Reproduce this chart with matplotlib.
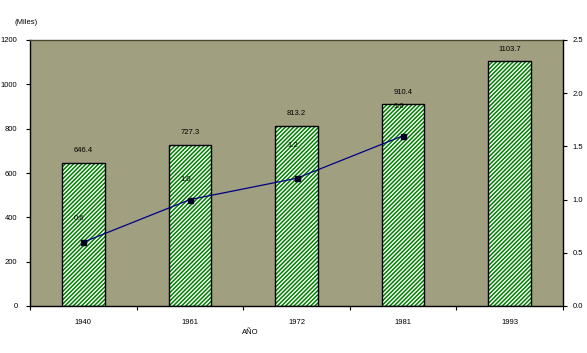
import matplotlib
matplotlib.use("Agg")
import matplotlib.pyplot as plt
import numpy as np

years = ["1940", "1961", "1972", "1981", "1993"]
population = [646.4, 727.3, 813.2, 910.4, 1103.7]
rate_years_idx = [0, 1, 2, 3]
rate = [0.6, 1.0, 1.2, 1.6]
left_ticks = [0, 200, 400, 600, 800, 1000, 1200]
right_ticks = [0.0, 0.5, 1.0, 1.5, 2.0, 2.5]

plt.rcParams['font.family'] = ['Liberation Sans', 'DejaVu Sans']
plt.rcParams['hatch.linewidth'] = 1.1

DPI = 100
fig = plt.figure(figsize=(5.87, 3.53), dpi=DPI)
fig.patch.set_facecolor('white')
W, H = 587, 353
ax = fig.add_axes([30 / W, 1 - 306 / H, (563 - 30) / W, (306 - 40) / H])
ax.set_facecolor('#A09F80')

x = np.arange(len(years))
bw = 0.40
ax.bar(x, population, width=bw, color='white', edgecolor='#008000', hatch='////////', linewidth=0, zorder=2)
ax.bar(x, population, width=bw, color='none', edgecolor='black', linewidth=1.0, zorder=3)

ax.set_xlim(-0.5, len(years) - 0.5)
ax.set_ylim(0, 1200)
ax.set_yticks(left_ticks)
ax.set_yticklabels([str(v) for v in left_ticks], fontsize=5.5)
ax.tick_params(axis='y', direction='out', length=3, width=0.8, pad=6)

ax.set_xticks(np.arange(-0.5, len(years), 1.0))
ax.set_xticklabels([])
ax.tick_params(axis='x', which='major', direction='out', length=3, width=0.8)
ax.set_xticks(x, minor=True)
ax.set_xticklabels(years, minor=True, fontsize=5.5)
ax.tick_params(axis='x', which='minor', length=0, pad=9)

for s in ['left', 'bottom']:
    ax.spines[s].set_color('black')
    ax.spines[s].set_linewidth(1.0)
ax.spines['top'].set_color('#4a4a30')
ax.spines['top'].set_linewidth(1.0)
ax.spines['right'].set_visible(False)

for xi, v in zip(x, population):
    ax.annotate(f"{v:.1f}", (xi, v), xytext=(0, 12 * 72 / DPI), textcoords='offset points',
                ha='center', va='center', fontsize=5.5)

ax2 = ax.twinx()
ax2.set_ylim(0, 2.5)
ax2.set_yticks(right_ticks)
ax2.set_yticklabels([f"{v:.1f}" for v in right_ticks], fontsize=5.5)
ax2.tick_params(axis='y', direction='out', length=3, width=0.8, pad=4)
for s in ['left', 'top', 'bottom']:
    ax2.spines[s].set_visible(False)
ax2.spines['right'].set_color('black')
ax2.spines['right'].set_linewidth(1.0)

ax2.plot(x[rate_years_idx], rate, color='#000080', linewidth=0.9, marker='s',
         markersize=3.6, markerfacecolor='#000022', markeredgecolor='#000022', zorder=4)
label_dy = [24, 20, 33, 29]
for xi, v, dy in zip(x[rate_years_idx], rate, label_dy):
    ax2.annotate(f"{v:.1f}", (xi, v), xytext=(-4 * 72 / DPI, dy * 72 / DPI), textcoords='offset points',
                 ha='center', va='center', fontsize=5.5)

fig.text(26 / W, 1 - 22 / H, "(Miles)", ha='center', va='center', fontsize=5.5)
fig.text(250 / W, 1 - 332 / H, "AÑO", ha='center', va='center', fontsize=5.5)

fig.savefig("out.png", dpi=DPI)
